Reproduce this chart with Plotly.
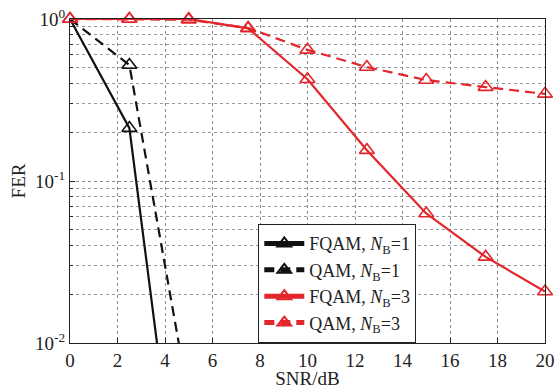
import plotly.graph_objects as go

snr = [0, 2.5, 5, 7.5, 10, 12.5, 15, 17.5, 20]
snr_b = [0, 2.5, 5]
fqam_nb1 = [1.0, 0.212, 3e-4]
qam_nb1 = [1.0, 0.52, 0.0045]
fqam_nb3 = [1.0, 1.0, 1.0, 0.875, 0.425, 0.155, 0.063, 0.034, 0.0208]
qam_nb3 = [1.0, 1.0, 0.99, 0.88, 0.645, 0.505, 0.42, 0.38, 0.345]

x_ticks = list(range(0, 21, 2))
y_ticks = [1, 0.1, 0.01]
y_ticktext = ["10<sup>0</sup>", "10<sup>-1</sup>", "10<sup>-2</sup>"]
y_minor = [m * 10 ** e for e in (-2, -1) for m in range(2, 10)]

RED = "#E3262B"
BLACK = "#111111"
FONT = "Liberation Serif"

fig = go.Figure()

def add(x, y, name, color, dash, clip):
    fig.add_trace(go.Scatter(
        x=x, y=y, name=name, mode="lines+markers",
        line=dict(color=color, width=2.2, dash=dash),
        marker=dict(symbol="triangle-up-open", size=13, color=color,
                    line=dict(width=1.6, color=color)),
        cliponaxis=clip,
    ))

add(snr_b, fqam_nb1, "FQAM, <i>N</i><sub>B</sub>=1", BLACK, "solid", True)
add(snr_b, qam_nb1, "QAM, <i>N</i><sub>B</sub>=1", BLACK, "10px,6px", True)
add(snr, fqam_nb3, "FQAM, <i>N</i><sub>B</sub>=3", RED, "solid", False)
add(snr, qam_nb3, "QAM, <i>N</i><sub>B</sub>=3", RED, "10px,6px", False)

fig.update_layout(
    width=555, height=389,
    margin=dict(l=70, r=10, t=19, b=46),
    paper_bgcolor="white", plot_bgcolor="white",
    font=dict(family=FONT, size=19, color="#222"),
    showlegend=True,
    legend=dict(
        x=0.396, y=0.0, xanchor="left", yanchor="bottom",
        bgcolor="white", bordercolor="#222", borderwidth=1.2,
        font=dict(family=FONT, size=18, color="#222"),
        tracegroupgap=0, itemsizing="constant", itemwidth=40,
    ),
)
fig.update_xaxes(
    range=[0, 20], tickvals=x_ticks, automargin=False,
    showline=True, linecolor="#222", linewidth=1.3, mirror=True,
    ticks="inside", ticklen=5, tickcolor="#222",
    showgrid=True, gridcolor="#8a8a8a", griddash="dot", gridwidth=1,
    zeroline=False,
    title=dict(text="SNR/dB", font=dict(family=FONT, size=19), standoff=0),
    tickfont=dict(family=FONT, size=19),
)
fig.update_yaxes(
    type="log", range=[-2, 0], tickvals=y_ticks, ticktext=y_ticktext,
    automargin=False,
    showline=True, linecolor="#222", linewidth=1.3, mirror=True,
    ticks="inside", ticklen=5, tickcolor="#222",
    showgrid=True, gridcolor="#8a8a8a", griddash="dot", gridwidth=1,
    minor=dict(tickvals=y_minor, showgrid=True, gridcolor="#9a9a9a",
               griddash="dot", ticks="inside", ticklen=3, tickcolor="#222"),
    title=dict(text="FER", font=dict(family=FONT, size=19), standoff=4),
    tickfont=dict(family=FONT, size=19),
)

fig.write_html("out.html", config={"displayModeBar": False},
               post_script="document.body.style.margin='0';")
